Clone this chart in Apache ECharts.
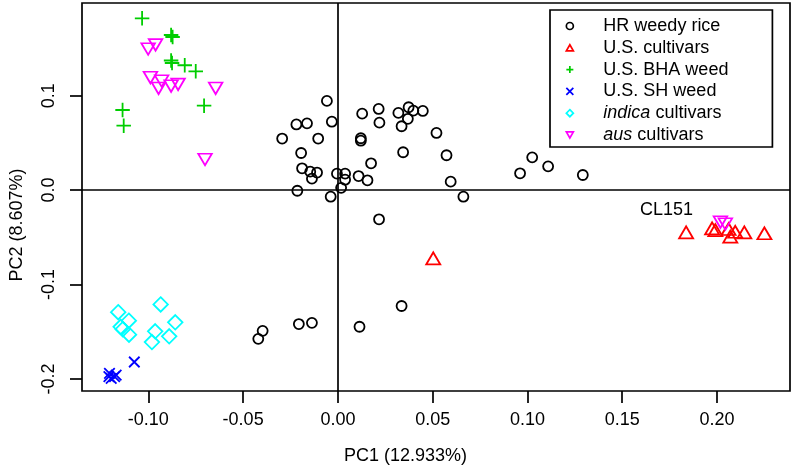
<!DOCTYPE html>
<html>
<head>
<meta charset="utf-8">
<script src="https://cdn.jsdelivr.net/npm/echarts@6/dist/echarts.min.js"></script>
<style>html,body{margin:0;padding:0;background:#fff}#c{width:794px;height:474px}</style>
</head>
<body>
<div id="c"></div>
<script>
// ---- data (PC1, PC2) ----
const hrWeedy = [
  [-0.0058,0.0944],[-0.0219,0.0695],[-0.0163,0.0707],[-0.0032,0.0724],[-0.0294,0.0546],
  [-0.0104,0.0546],[-0.0194,0.0393],[-0.0189,0.0231],[-0.0146,0.0195],[-0.0110,0.0186],
  [-0.0137,0.0121],[-0.0214,-0.0007],[-0.0038,-0.0070],[-0.0005,0.0174],[0.0038,0.0174],
  [0.0038,0.0110],[0.0017,0.0024],[0.0109,0.0149],[0.0156,0.0104],[0.0175,0.0284],
  [0.0121,0.0549],[0.0121,0.0523],[0.0128,0.0809],[0.0215,0.0859],[0.0219,0.0714],
  [0.0319,0.0817],[0.0373,0.0877],[0.0398,0.0841],[0.0369,0.0755],[0.0336,0.0676],
  [0.0448,0.0838],[0.0520,0.0605],[0.0344,0.0401],[0.0573,0.0369],[0.0595,0.0089],
  [0.0662,-0.0070],[0.0961,0.0178],[0.1025,0.0347],[0.1109,0.0252],[0.1292,0.0160],
  [0.0217,-0.0309],[-0.0420,-0.1575],[-0.0397,-0.1490],[-0.0206,-0.1418],[-0.0137,-0.1405],
  [0.0336,-0.1227],[0.0114,-0.1447]
];
const usCultivars = [
  [0.0503,-0.0722],[0.1837,-0.0447],[0.1974,-0.0405],[0.1991,-0.0423],[0.2061,-0.0412],
  [0.2070,-0.0493],[0.2096,-0.0441],[0.2144,-0.0447],[0.2250,-0.0457]
];
const bhaWeed = [
  [-0.1033,0.1819],[-0.0880,0.1642],[-0.0872,0.1621],[-0.0880,0.1372],[-0.0875,0.1346],
  [-0.0808,0.1322],[-0.0750,0.1258],[-0.1136,0.0848],[-0.1130,0.0682],[-0.0706,0.0894]
];
const shWeed = [
  [-0.1074,-0.1820],[-0.1205,-0.1940],[-0.1178,-0.1976],[-0.1208,-0.1976],[-0.1170,-0.1958],[-0.1196,-0.1993]
];
const indicaCultivars = [
  [-0.1159,-0.1293],[-0.1103,-0.1383],[-0.1146,-0.1447],[-0.1135,-0.1473],[-0.1102,-0.1531],
  [-0.0935,-0.1211],[-0.0858,-0.1400],[-0.0964,-0.1495],[-0.0890,-0.1548],[-0.0981,-0.1609]
];
const ausCultivars = [
  [-0.1001,0.1494],[-0.0962,0.1537],[-0.0989,0.1192],[-0.0930,0.1155],[-0.0946,0.1078],
  [-0.0880,0.1102],[-0.0843,0.1120],[-0.0645,0.1078],[-0.0701,0.0324],[0.2018,-0.0338],[0.2044,-0.0359]
];
const pointLabels = [[0.1734,-0.0211,'CL151']];
const groupNames = ['HR weedy rice','U.S. cultivars','U.S. BHA weed','U.S. SH weed','indica cultivars','aus cultivars'];
const xTicks = [-0.10,-0.05,0.00,0.05,0.10,0.15,0.20];
const yTicks = [-0.2,-0.1,0.0,0.1];
const xTitle = 'PC1 (12.933%)';
const yTitle = 'PC2 (8.607%)';

// ---- chart ----
const FONT = '"Liberation Sans", Arial, Helvetica, sans-serif';
const SW = 1.8;
const shapes = {
  circle: 'circle',
  tri: 'path://M5,0L10,8.66L0,8.66Z',
  plus: 'path://M5,0L5,10M0,5L10,5',
  cross: 'path://M0,0L10,10M10,0L0,10',
  diamond: 'path://M5,0L10,5L5,10L0,5Z',
  tridown: 'path://M0,0L10,0L5,8.66Z'
};
function sc(name, data, symbol, size, color) {
  return {
    type: 'scatter', name: name, data: data, symbol: symbol, symbolSize: size,
    itemStyle: {color: 'rgba(0,0,0,0)', borderColor: color, borderWidth: SW, opacity: 1},
    emphasis: {disabled: true}, silent: true
  };
}
const series = [
  sc(groupNames[0], hrWeedy, shapes.circle, 10, '#000000'),
  sc(groupNames[1], usCultivars, shapes.tri, [14, 12], '#FF0000'),
  sc(groupNames[2], bhaWeed, shapes.plus, 14.5, '#00CD00'),
  sc(groupNames[3], shWeed, shapes.cross, 10.5, '#0000FF'),
  sc(groupNames[4], indicaCultivars, shapes.diamond, 14.5, '#00FFFF'),
  sc(groupNames[5], ausCultivars, shapes.tridown, [13.5, 11.5], '#FF00FF'),
  {
    type: 'scatter', name: 'labels', data: pointLabels, symbolSize: 0, silent: true,
    itemStyle: {opacity: 1},
    label: {show: true, position: 'inside', formatter: p => p.data[2], color: '#000', textBorderWidth: 0,
      fontSize: 18, fontFamily: FONT},
    markLine: {
      silent: true, symbol: 'none', label: {show: false},
      lineStyle: {color: '#000', width: 1.7, type: 'solid', opacity: 1},
      emphasis: {disabled: true},
      data: [{xAxis: 0}, {yAxis: 0}]
    }
  }
];
const chart = echarts.init(document.getElementById('c'), null, {renderer: 'canvas'});
chart.setOption({
  animation: false,
  backgroundColor: '#fff',
  grid: {left: 79, top: 3, right: 4, bottom: 83, show: true, borderColor: '#000', borderWidth: 1.7, backgroundColor: 'transparent'},
  xAxis: {
    type: 'value', min: -0.135, max: 0.2385,
    name: xTitle, nameLocation: 'middle', nameGap: 56,
    nameTextStyle: {fontSize: 18, fontFamily: FONT, color: '#000', padding: [0, 61, 0, 0]},
    axisLine: {show: false, onZero: false},
    axisTick: {show: true, inside: false, length: 12, lineStyle: {color: '#000', width: 1.7}, customValues: xTicks},
    axisLabel: {show: true, margin: 20, fontSize: 18, fontFamily: FONT, color: '#000', customValues: xTicks,
      formatter: v => v.toFixed(2)},
    splitLine: {show: false}
  },
  yAxis: {
    type: 'value', min: -0.2127, max: 0.1981,
    name: yTitle, nameLocation: 'middle', nameGap: 56,
    nameTextStyle: {fontSize: 18, fontFamily: FONT, color: '#000', padding: [0, 56, 0, 0]},
    axisLine: {show: false, onZero: false},
    axisTick: {show: true, inside: false, length: 12, lineStyle: {color: '#000', width: 1.7}, customValues: yTicks},
    axisLabel: {show: true, margin: 24, rotate: 90, fontSize: 18, fontFamily: FONT, color: '#000', customValues: yTicks,
      formatter: v => v.toFixed(1)},
    splitLine: {show: false}
  },
  legend: {
    data: groupNames, orient: 'vertical', left: 550, top: 10,
    backgroundColor: '#fff', borderColor: '#000', borderWidth: 1.7,
    padding: [7, 44, 3, 15.5],
    itemWidth: 7, itemHeight: 7, itemGap: 3.8,
    itemStyle: {borderWidth: 1.7, opacity: 1},
    selectedMode: false,
    textStyle: {fontSize: 18, fontFamily: FONT, color: '#000', padding: [0, 0, 0, 25],
      rich: {i: {fontStyle: 'italic', fontSize: 18, fontFamily: FONT, color: '#000'}}},
    formatter: function (name) {
      if (name.indexOf('indica') === 0) return '{i|indica} cultivars';
      if (name.indexOf('aus') === 0) return '{i|aus} cultivars';
      return name;
    }
  },
  series: series
});
</script>
</body>
</html>
